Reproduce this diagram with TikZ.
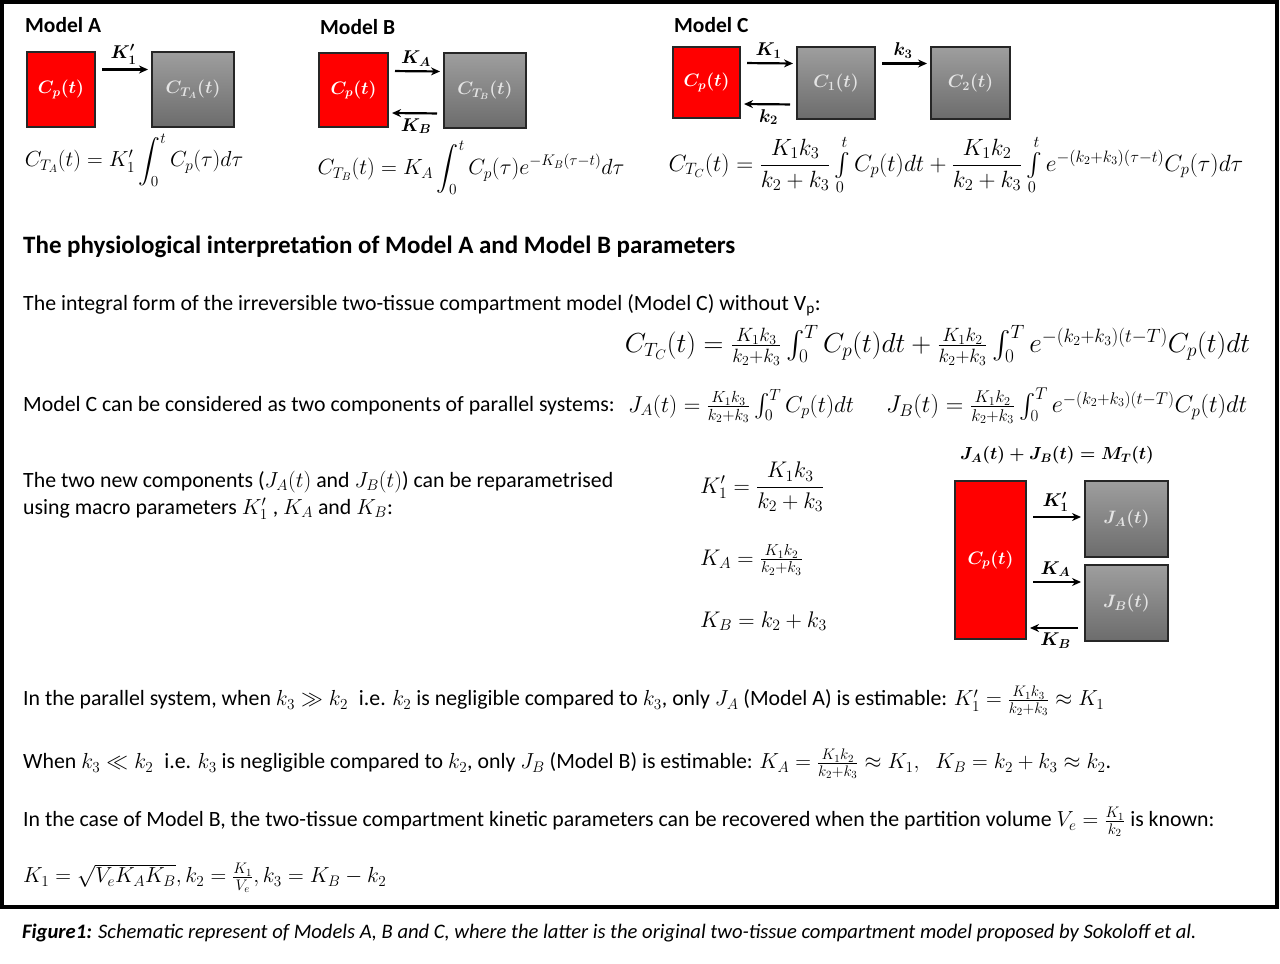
\RequirePackage{fix-cm}
\documentclass[tikz,border=0pt]{standalone}
\usepackage{amsmath}
\usepackage{amssymb}
\usepackage{fontspec}
\setmainfont{Carlito}
\usetikzlibrary{arrows.meta, positioning, calc}
\definecolor{plasmared}{RGB}{255,0,0}
\definecolor{tissuetop}{RGB}{158,158,158}
\definecolor{tissuebot}{RGB}{108,108,108}
\definecolor{boxtext}{RGB}{228,228,228}

\begin{document}
\begin{tikzpicture}[x=1pt, y=-1pt,
    >={Stealth[length=9pt, width=8pt]},
    plasma/.style={draw=black!85, line width=2pt, fill=plasmared, text=white, inner sep=0pt, font=\fontsize{18}{22}\selectfont},
    tissue/.style={draw=black!85, line width=2pt, top color=tissuetop, bottom color=tissuebot, text=boxtext, inner sep=0pt, font=\fontsize{18}{22}\selectfont},
    flow/.style={->, line width=2.2pt, shorten >=3pt, shorten <=6pt},
    rate/.style={font=\fontsize{18.5}{22}\selectfont, inner sep=4pt},
    title/.style={anchor=west, inner sep=0pt, font=\fontsize{21.5}{25}\selectfont\bfseries},
    body/.style={anchor=west, inner sep=0pt, font=\fontsize{21.8}{27}\selectfont},
    eq/.style={inner sep=0pt, font=\fontsize{21.8}{26}\selectfont},
]
    \useasboundingbox (0,0) rectangle (1280,964);
    \draw[line width=4pt] (2,2) rectangle (1277,907);

    % Model A
    \node[title] (titleA) at (25,25) {Model A};
    \node[plasma, minimum width=68pt, minimum height=75pt] (cpA) at (61,89.5) {$\boldsymbol{C_p(t)}$};
    \node[tissue, minimum width=82pt, minimum height=75pt] (ctA) at (193,89.5) {$\boldsymbol{C_{T_A}(t)}$};
    \draw[flow] ([yshift=20pt]cpA.east) -- node[rate, above] {$\boldsymbol{K'_1}$} ([yshift=20pt]ctA.west);
    \node[eq] (eqA) at (134,160) {$C_{T_A}(t) = K'_1\displaystyle\int_0^t C_p(\tau)d\tau$};

    % Model B
    \node[title] (titleB) at (320,27) {Model B};
    \node[plasma, minimum width=69pt, minimum height=74pt] (cpB) at (353.5,90) {$\boldsymbol{C_p(t)}$};
    \node[tissue, minimum width=82pt, minimum height=75pt] (ctB) at (485,90.5) {$\boldsymbol{C_{T_B}(t)}$};
    \draw[flow] ([yshift=19pt]cpB.east) -- node[rate, above] {$\boldsymbol{K_A}$} ([yshift=19pt]ctB.west);
    \draw[flow] ([yshift=-23pt]ctB.west) -- node[rate, below] {$\boldsymbol{K_B}$} ([yshift=-23pt]cpB.east);
    \node[eq, font=\fontsize{22}{26}\selectfont] (eqB) at (471,168) {$C_{T_B}(t) = K_A\displaystyle\int_0^t C_p(\tau)e^{-K_B(\tau-t)}d\tau$};

    % Model C
    \node[title] (titleC) at (674,25) {Model C};
    \node[plasma, minimum width=67pt, minimum height=71pt] (cpC) at (706.5,82.5) {$\boldsymbol{C_p(t)}$};
    \node[tissue, minimum width=78pt, minimum height=72pt] (cOne) at (836,83) {$\boldsymbol{C_1(t)}$};
    \node[tissue, minimum width=79pt, minimum height=72pt] (cTwo) at (970.5,83) {$\boldsymbol{C_2(t)}$};
    \draw[flow] ([yshift=19.5pt]cpC.east) -- node[rate, above] {$\boldsymbol{K_1}$} ([yshift=19.5pt]cOne.west);
    \draw[flow] ([yshift=-21.5pt]cOne.west) -- node[rate, below] {$\boldsymbol{k_2}$} ([yshift=-21.5pt]cpC.east);
    \draw[flow] ([yshift=19.5pt]cOne.east) -- node[rate, above] {$\boldsymbol{k_3}$} ([yshift=19.5pt]cTwo.west);
    \node[eq, font=\fontsize{23.5}{27}\selectfont] (eqC) at (956,165) {$C_{T_C}(t) = \dfrac{K_1k_3}{k_2+k_3}\int\limits_0^t C_p(t)dt + \dfrac{K_1k_2}{k_2+k_3}\int\limits_0^t e^{-(k_2+k_3)(\tau-t)}C_p(\tau)d\tau$};

    % interpretation
    \node[title, font=\fontsize{25}{30}\selectfont\bfseries] (head) at (23,247) {The physiological interpretation of Model A and Model B parameters};
    \node[body] (lineOne) at (23,305) {The integral form of the irreversible two-tissue compartment model (Model C) without V$_{\mathrm{p}}$:};
    \node[eq, font=\fontsize{27.5}{32}\selectfont] (eqInt) at (937.5,345) {$C_{T_C}(t) = \frac{K_1k_3}{k_2+k_3}\int_0^T C_p(t)dt + \frac{K_1k_2}{k_2+k_3}\int_0^T e^{-(k_2+k_3)(t-T)}C_p(t)dt$};
    \node[body] (lineTwo) at (23,406) {Model C can be considered as two components of parallel systems:};
    \node[eq, anchor=west, font=\fontsize{23}{27}\selectfont] (eqJA) at (628,406) {$J_A(t) = \frac{K_1k_3}{k_2+k_3}\int_0^T C_p(t)dt$};
    \node[eq, anchor=west, font=\fontsize{24.3}{28}\selectfont] (eqJB) at (886,406) {$J_B(t) = \frac{K_1k_2}{k_2+k_3}\int_0^T e^{-(k_2+k_3)(t-T)}C_p(t)dt$};
    \node[body, align=left] (lineThree) at (23,495.5) {The two new components ($J_A(t)$ and $J_B(t)$) can be reparametrised\\using macro parameters $K'_1$ , $K_A$ and $K_B$:};
    \node[eq, anchor=west, font=\fontsize{22.6}{26}\selectfont] (defK) at (700,487) {$K'_1 = \dfrac{K_1k_3}{k_2+k_3}$};
    \node[eq, anchor=west, font=\fontsize{22.6}{26}\selectfont] (defKA) at (700,560) {$K_A = \frac{K_1k_2}{k_2+k_3}$};
    \node[eq, anchor=west, font=\fontsize{22.6}{26}\selectfont] (defKB) at (700,621) {$K_B = k_2+k_3$};

    % parallel system
    \node[eq, font=\fontsize{17.5}{22}\selectfont] (sumJ) at (1057,455) {$\boldsymbol{J_A(t) + J_B(t) = M_T(t)}$};
    \node[plasma, minimum width=71pt, minimum height=158pt] (cpP) at (990.5,560) {$\boldsymbol{C_p(t)}$};
    \node[tissue, minimum width=83pt, minimum height=76pt] (jA) at (1126.5,519) {$\boldsymbol{J_A(t)}$};
    \node[tissue, minimum width=83pt, minimum height=76pt] (jB) at (1126.5,603) {$\boldsymbol{J_B(t)}$};
    \draw[flow] ([yshift=2pt]cpP.east |- jA.west) -- node[rate, above] {$\boldsymbol{K'_1}$} ([yshift=2pt]jA.west);
    \draw[flow] ([yshift=21pt]cpP.east |- jB.west) -- node[rate, above] {$\boldsymbol{K_A}$} ([yshift=21pt]jB.west);
    \draw[flow] ([yshift=-25pt]jB.west) -- node[rate, below] {$\boldsymbol{K_B}$} ([yshift=-25pt]cpP.east |- jB.west);

    % limiting cases
    \node[body] (caseA) at (23,701) {In the parallel system, when $k_3 \gg k_2$ \;i.e. $k_2$ is negligible compared to $k_3$, only $J_A$ (Model A) is estimable: $K'_1 = \frac{K_1k_3}{k_2+k_3} \approx K_1$};
    \node[body] (caseB) at (23,764) {When $k_3 \ll k_2$ \;i.e. $k_3$ is negligible compared to $k_2$, only $J_B$ (Model B) is estimable: $K_A = \frac{K_1k_2}{k_2+k_3} \approx K_1,\;\; K_B = k_2+k_3 \approx k_2$.};
    \node[body] (caseC) at (23,822) {In the case of Model B, the two-tissue compartment kinetic parameters can be recovered when the partition volume $V_e = \frac{K_1}{k_2}$ is known:};
    \node[body] (recover) at (23,878) {$K_1 = \sqrt{V_eK_AK_B}, k_2 = \frac{K_1}{V_e}, k_3 = K_B - k_2$};

    % caption
    \node[body, font=\fontsize{20.6}{24}\selectfont\itshape] (caption) at (22,933) {\textbf{Figure1:} Schematic represent of Models A, B and C, where the latter is the original two-tissue compartment model proposed by Sokoloff et al.};
\end{tikzpicture}
\end{document}
